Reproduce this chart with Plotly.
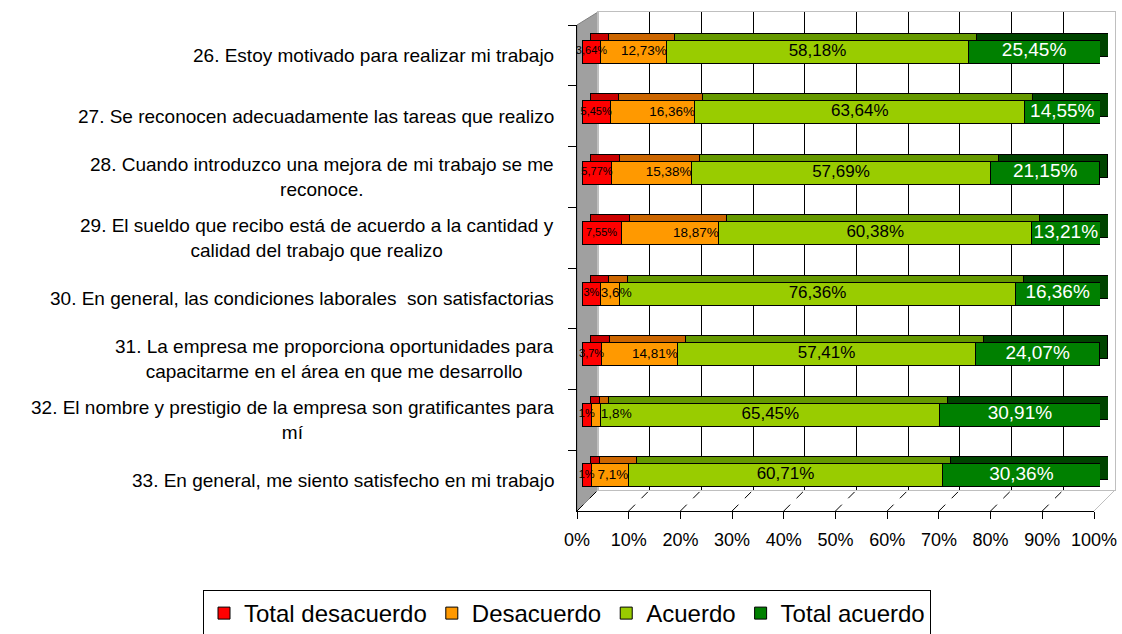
import plotly.graph_objects as go
import numpy as np

W, H = 1122, 634

categories = [
    "26. Estoy motivado para realizar mi trabajo",
    "27. Se reconocen adecuadamente las tareas que realizo",
    "28. Cuando introduzco una mejora de mi trabajo se me<br>reconoce.",
    "29. El sueldo que recibo está de acuerdo a la cantidad y<br>calidad del trabajo que realizo",
    "30. En general, las condiciones laborales  son satisfactorias",
    "31. La empresa me proporciona oportunidades para<br>capacitarme en el área en que me desarrollo",
    "32. El nombre y prestigio de la empresa son gratificantes para<br>mí",
    "33. En general, me siento satisfecho en mi trabajo",
]
total_desacuerdo = [3.64, 5.45, 5.77, 7.55, 3.64, 3.70, 1.82, 1.79]
desacuerdo = [12.73, 16.36, 15.38, 18.87, 3.64, 14.81, 1.82, 7.14]
acuerdo = [58.18, 63.64, 57.69, 60.38, 76.36, 57.41, 65.45, 60.71]
total_acuerdo = [25.45, 14.55, 21.15, 13.21, 16.36, 24.07, 30.91, 30.36]

labels_td = ["3,64%", "5,45%", "5,77%", "7,55%", "3%", "3,7%", "1%", "1%"]
labels_de = ["12,73%", "16,36%", "15,38%", "18,87%", "3,6%", "14,81%", "1,8%", "7,1%"]
labels_ac = ["58,18%", "63,64%", "57,69%", "60,38%", "76,36%", "57,41%", "65,45%", "60,71%"]
labels_ta = ["25,45%", "14,55%", "21,15%", "13,21%", "16,36%", "24,07%", "30,91%", "30,36%"]

series_names = ["Total desacuerdo", "Desacuerdo", "Acuerdo", "Total acuerdo"]
x_ticks = list(range(0, 101, 10))
x_ticktext = [f"{v}%" for v in x_ticks]

FONT = "Liberation Sans, Arial, sans-serif"
front_colors = ["#FF0000", "#FF9900", "#99CC00", "#008000"]
top_colors = ["#CC0000", "#CC6600", "#669900", "#004400"]
text_colors = ["black", "black", "black", "white"]
text_sizes = [11, 13.5, 17, 19]
# label anchoring: 'c' centre, 'e' right-aligned at segment end,
# 's' left-aligned at segment start, 'a' left-aligned just after segment end
label_anchor = [
    ["c"] * 8,
    ["e", "e", "e", "e", "s", "e", "a", "e"],
    ["c"] * 8,
    ["c"] * 8,
]


def fx(p):
    return p / W


def fy(p):
    return 1 - p / H


# pixel geometry of the pseudo-3D layers
BACK_X = (598, 1115)
BACK_Y = (12, 490)
FRONT_X = (577, 1094)
FRONT_Y = (25, 511)
BAR_X = (582, 1100)
BAR_Y = (21.45, 505.45)
DX, DY = 8, -7

values = [total_desacuerdo, desacuerdo, acuerdo, total_acuerdo]
labels = [labels_td, labels_de, labels_ac, labels_ta]

fig = go.Figure()

# back wall (gridlines)
fig.add_trace(go.Scatter(x=[None], y=[None], xaxis="x", yaxis="y",
                         showlegend=False, hoverinfo="skip"))
# front axes
fig.add_trace(go.Scatter(x=[0] * len(categories), y=categories, xaxis="x2", yaxis="y2",
                         mode="markers", marker=dict(opacity=0),
                         showlegend=False, hoverinfo="skip"))
# depth (back copy of bars)
for name, vals, col in zip(series_names, values, top_colors):
    fig.add_trace(go.Bar(x=vals, y=categories, orientation="h", xaxis="x3", yaxis="y3",
                         marker=dict(color=col, line=dict(color="black", width=1)),
                         showlegend=False, hoverinfo="skip"))
# front bars
for name, vals, col in zip(series_names, values, front_colors):
    fig.add_trace(go.Bar(x=vals, y=categories, orientation="h", xaxis="x4", yaxis="y4",
                         name=name,
                         marker=dict(color=col, line=dict(color="black", width=1))))
# labels
pos_map = {"c": "middle center", "e": "middle left", "s": "middle right", "a": "middle right"}
cum = np.zeros(len(categories))
for vals, lab, tc, ts, anc in zip(values, labels, text_colors, text_sizes, label_anchor):
    v = np.array(vals)
    xs = []
    for i in range(len(v)):
        if anc[i] == "c":
            xs.append(cum[i] + v[i] / 2)
        elif anc[i] in ("e", "a"):
            xs.append(cum[i] + v[i])
        else:
            xs.append(cum[i])
    fig.add_trace(go.Scatter(x=xs, y=categories, xaxis="x4", yaxis="y4",
                             mode="text", text=lab, textposition=[pos_map[a] for a in anc],
                             textfont=dict(color=tc, size=ts, family=FONT),
                             cliponaxis=False, showlegend=False, hoverinfo="skip"))
    cum = cum + v

shapes = []
# left gray wall
shapes.append(dict(type="path", xref="paper", yref="paper", layer="below",
                   path=f"M {fx(FRONT_X[0])} {fy(FRONT_Y[0])} L {fx(BACK_X[0])} {fy(BACK_Y[0])} "
                        f"L {fx(BACK_X[0])} {fy(BACK_Y[1])} L {fx(FRONT_X[0])} {fy(FRONT_Y[1])} Z",
                   fillcolor="#A0A0A0", line=dict(color="#808080", width=1)))
# floor dashed lines
for t in x_ticks:
    xf = FRONT_X[0] + t / 100 * (FRONT_X[1] - FRONT_X[0])
    xb = BACK_X[0] + t / 100 * (BACK_X[1] - BACK_X[0])
    shapes.append(dict(type="line", xref="paper", yref="paper", layer="below",
                       x0=fx(xf), y0=fy(FRONT_Y[1]), x1=fx(xb), y1=fy(BACK_Y[1]),
                       line=dict(color="black", width=1, dash="dash" if t < 100 else "solid")))
shapes[-1]["line"]["color"] = "#BFBFBF"

annotations = []
for cat in categories:
    annotations.append(dict(x=fx(556), xref="paper", xanchor="right", y=cat, yref="y2",
                            text=cat, showarrow=False, align="center",
                            font=dict(size=19, family=FONT, color="black")))

fig.update_layout(
    width=W, height=H,
    margin=dict(l=0, r=0, t=0, b=0, autoexpand=False),
    paper_bgcolor="white", plot_bgcolor="rgba(0,0,0,0)",
    barmode="stack", bargap=0.62,
    font=dict(family=FONT, color="black"),
    showlegend=True,
    legend=dict(orientation="h", x=fx(203), y=fy(590), xanchor="left", yanchor="top",
                bordercolor="black", borderwidth=1, bgcolor="white",
                font=dict(size=24, family=FONT), itemwidth=30, traceorder="normal"),
    xaxis=dict(domain=[fx(BACK_X[0]), fx(BACK_X[1])], anchor="y", range=[0, 100],
               showgrid=True, gridcolor="black", gridwidth=1, tick0=0, dtick=10,
               showticklabels=False, zeroline=False, showline=True, mirror=True,
               linecolor="#BFBFBF", ticks="", automargin=False),
    yaxis=dict(domain=[fy(BACK_Y[1]), fy(BACK_Y[0])], anchor="x", range=[0, 1],
               showgrid=False, showticklabels=False, zeroline=False, showline=True,
               mirror=True, linecolor="#BFBFBF", ticks="", automargin=False),
    xaxis2=dict(domain=[fx(FRONT_X[0]), fx(FRONT_X[1])], anchor="y2", range=[0, 100],
                tickvals=x_ticks, ticktext=x_ticktext, ticks="outside", ticklen=7,
                tickcolor="black", showline=True, linecolor="black", showgrid=False,
                zeroline=False, tickfont=dict(size=18, family=FONT, color="black"),
                ticklabelstandoff=5, automargin=False),
    yaxis2=dict(domain=[fy(FRONT_Y[1]), fy(FRONT_Y[0])], anchor="x2", type="category",
                range=[len(categories) - 0.5, -0.5], ticks="outside", tickson="boundaries",
                ticklen=8, tickcolor="black", showline=True, linecolor="black",
                showticklabels=False, showgrid=False, zeroline=False, automargin=False),
    xaxis3=dict(domain=[fx(BAR_X[0] + DX), fx(BAR_X[1] + DX)], anchor="y3", range=[0, 100],
                visible=False, automargin=False),
    yaxis3=dict(domain=[fy(BAR_Y[1] + DY), fy(BAR_Y[0] + DY)], anchor="x3", type="category",
                range=[len(categories) - 0.5, -0.5], visible=False, automargin=False),
    xaxis4=dict(domain=[fx(BAR_X[0]), fx(BAR_X[1])], anchor="y4", range=[0, 100],
                visible=False, automargin=False),
    yaxis4=dict(domain=[fy(BAR_Y[1]), fy(BAR_Y[0])], anchor="x4", type="category",
                range=[len(categories) - 0.5, -0.5], visible=False, automargin=False),
    shapes=shapes,
    annotations=annotations,
)

fig.write_html("out.html", config={"displayModeBar": False},
               post_script="document.body.style.margin='0';document.body.style.overflow='hidden';")
